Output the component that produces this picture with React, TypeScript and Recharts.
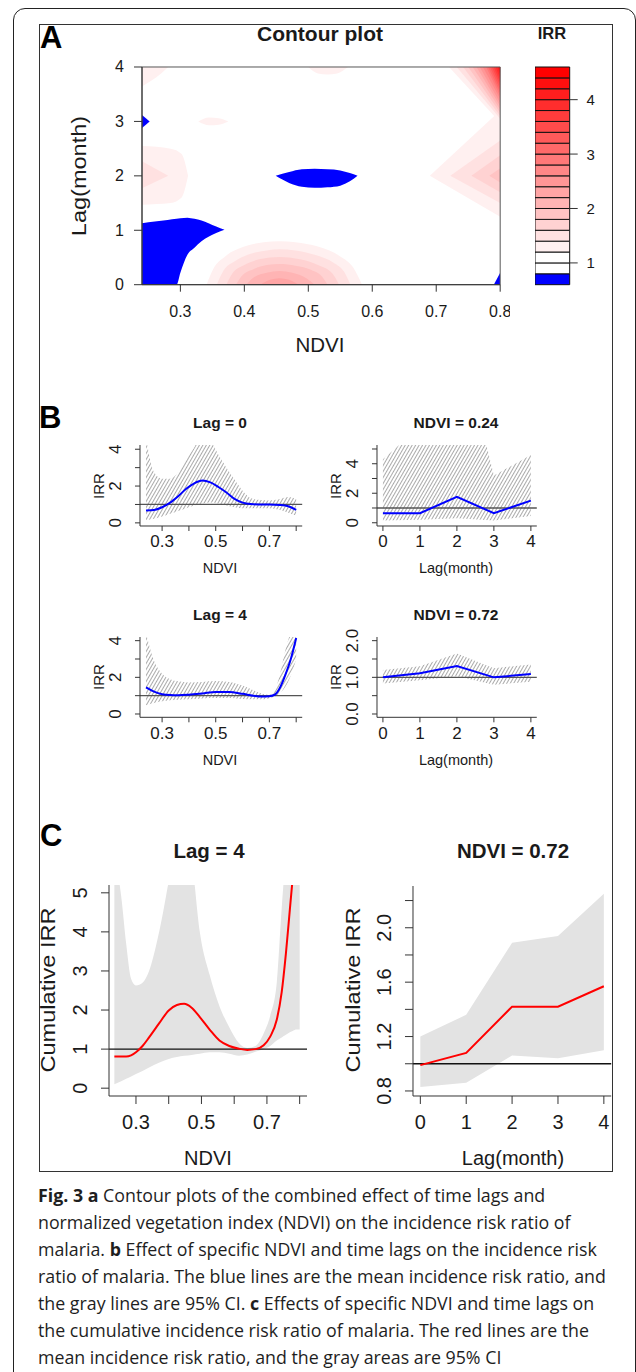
import React from "react";
import { ComposedChart, Area, Line, XAxis, YAxis, ReferenceLine, ReferenceArea } from "recharts";

const FONT = "'Liberation Sans', Arial, sans-serif";
const CAPTION_FONT = "'Open Sans', 'Noto Sans', sans-serif";
const INK = "#1a1a1a";
const AXIS = "#333";

// ---------- A: contour plot ----------
const ndviTicks = [0.3, 0.4, 0.5, 0.6, 0.7, 0.8];
const lagTicks = [0, 1, 2, 3, 4];
// lower edge of every band in the IRR key
const keyLevels = [0.6, 0.8, 1.0, 1.2, 1.4, 1.6, 1.8, 2.0, 2.2, 2.4, 2.6, 2.8, 3.0, 3.2, 3.4, 3.6, 3.8, 4.0, 4.2, 4.4];
const keyTop = 4.6;
const keyTicks = [1, 2, 3, 4];

// filled contour pieces, rows are [ndvi, lag from, lag to]
const blueRegions = [
  [[0.24, 0, 1.13], [0.26, 0, 1.16], [0.28, 0, 1.19], [0.294, 0, 1.21], [0.3, 0.22, 1.22], [0.311, 0.55, 1.23], [0.322, 0.68, 1.21], [0.333, 0.8, 1.18], [0.344, 0.88, 1.13], [0.356, 0.95, 1.07], [0.369, 1.01, 1.01]],
  [[0.24, 2.88, 3.12], [0.252, 3.0, 3.0]],
  [[0.449, 2, 2], [0.47, 1.87, 2.07], [0.49, 1.8, 2.12], [0.51, 1.78, 2.13], [0.53, 1.79, 2.12], [0.55, 1.82, 2.1], [0.565, 1.9, 2.05], [0.577, 2, 2]],
  [[0.79, 0, 0], [0.8, 0, 0.22]],
];

const pinkRegions = [
  // dome at lag 0
  { level: 1.2, pts: [[0.341, 0, 0], [0.352, 0, 0.3], [0.37, 0, 0.52], [0.4, 0, 0.7], [0.43, 0, 0.78], [0.455, 0, 0.8], [0.48, 0, 0.78], [0.515, 0, 0.7], [0.55, 0, 0.52], [0.57, 0, 0.32], [0.584, 0, 0]] },
  { level: 1.4, pts: [[0.357, 0, 0], [0.367, 0, 0.25], [0.385, 0, 0.43], [0.41, 0, 0.57], [0.435, 0, 0.63], [0.455, 0, 0.65], [0.48, 0, 0.63], [0.51, 0, 0.55], [0.54, 0, 0.4], [0.556, 0, 0.24], [0.566, 0, 0]] },
  { level: 1.6, pts: [[0.372, 0, 0], [0.381, 0, 0.2], [0.4, 0, 0.36], [0.425, 0, 0.47], [0.455, 0, 0.51], [0.485, 0, 0.47], [0.515, 0, 0.36], [0.538, 0, 0.2], [0.548, 0, 0]] },
  { level: 1.8, pts: [[0.387, 0, 0], [0.396, 0, 0.16], [0.415, 0, 0.29], [0.435, 0, 0.36], [0.455, 0, 0.38], [0.48, 0, 0.35], [0.505, 0, 0.27], [0.522, 0, 0.14], [0.53, 0, 0]] },
  { level: 2.0, pts: [[0.403, 0, 0], [0.413, 0, 0.12], [0.435, 0, 0.22], [0.455, 0, 0.25], [0.475, 0, 0.22], [0.497, 0, 0.12], [0.51, 0, 0]] },
  { level: 2.2, pts: [[0.425, 0, 0], [0.44, 0, 0.09], [0.455, 0, 0.12], [0.47, 0, 0.09], [0.485, 0, 0]] },
  // left edge around lag 2
  { level: 1.2, pts: [[0.24, 1.47, 2.55], [0.285, 1.5, 2.5], [0.302, 1.6, 2.4], [0.312, 2, 2]] },
  { level: 1.4, pts: [[0.24, 1.77, 2.27], [0.281, 2, 2]] },
  // small patches
  { level: 1.2, pts: [[0.24, 3.64, 4], [0.255, 3.75, 4], [0.27, 3.88, 4], [0.281, 4, 4]] },
  { level: 1.2, pts: [[0.5, 4, 4], [0.515, 3.88, 4], [0.53, 3.86, 4], [0.545, 3.88, 4], [0.562, 4, 4]] },
  { level: 1.2, pts: [[0.328, 3, 3], [0.345, 2.93, 3.07], [0.36, 2.94, 3.06], [0.375, 3, 3]] },
  // chevron at the right edge, lag 2
  { level: 1.2, pts: [[0.69, 2, 2], [0.8, 1.25, 3.2]] },
  { level: 1.4, pts: [[0.722, 2, 2], [0.8, 1.5, 2.65]] },
  { level: 1.6, pts: [[0.755, 2, 2], [0.8, 1.7, 2.38]] },
  { level: 1.8, pts: [[0.783, 2, 2], [0.8, 1.88, 2.14]] },
];

// top-right corner: where each band (from 1.2 up) meets lag 4 and NDVI 0.8
const cornerTopNdvi = [0.72, 0.732, 0.742, 0.75, 0.757, 0.763, 0.768, 0.773, 0.778, 0.781, 0.784, 0.787, 0.79, 0.793, 0.796, 0.798, 0.799];
const cornerEdgeLag = [2.98, 3.05, 3.1, 3.16, 3.22, 3.28, 3.34, 3.41, 3.47, 3.53, 3.59, 3.66, 3.72, 3.78, 3.84, 3.9, 3.96];

// ---------- B: lag-response slices ----------
const lag0Ndvi = [0.24, 0.27, 0.3, 0.33, 0.36, 0.39, 0.42, 0.45, 0.48, 0.51, 0.54, 0.57, 0.6, 0.63, 0.66, 0.7, 0.74, 0.77, 0.8];
const lag0Irr = [0.67, 0.7, 0.85, 1.1, 1.45, 1.85, 2.15, 2.3, 2.2, 1.95, 1.65, 1.3, 1.1, 1.02, 1.0, 1.0, 0.97, 0.9, 0.7];
const lag0Upper = [4.6, 2.75, 2.4, 2.4, 2.75, 3.5, 4.1, 5.0, 4.5, 3.7, 3.0, 2.35, 1.75, 1.35, 1.25, 1.22, 1.3, 1.4, 1.3];
const lag0Lower = [0.15, 0.22, 0.35, 0.5, 0.65, 0.8, 0.95, 1.05, 1.1, 1.05, 0.95, 0.85, 0.8, 0.8, 0.8, 0.8, 0.7, 0.55, 0.4];

const lag4Ndvi = [0.24, 0.27, 0.3, 0.33, 0.36, 0.4, 0.45, 0.5, 0.55, 0.6, 0.64, 0.67, 0.7, 0.72, 0.74, 0.76, 0.78, 0.8];
const lag4Irr = [1.45, 1.22, 1.08, 1.03, 1.02, 1.05, 1.12, 1.2, 1.2, 1.1, 1.0, 0.95, 0.97, 1.05, 1.45, 2.15, 3.0, 4.15];
const lag4Upper = [4.4, 2.9, 2.2, 1.9, 1.78, 1.72, 1.75, 1.8, 1.75, 1.55, 1.3, 1.12, 1.05, 1.3, 2.2, 3.5, 4.5, 5.5];
const lag4Lower = [0.48, 0.6, 0.7, 0.75, 0.78, 0.8, 0.85, 0.87, 0.87, 0.82, 0.8, 0.8, 0.85, 0.95, 1.15, 1.5, 2.1, 3.0];

const lagSteps = [0, 1, 2, 3, 4];
const ndvi024Irr = [0.65, 0.65, 1.75, 0.65, 1.5];
const ndvi024Upper = [4.3, 6.5, 13.5, 3.2, 4.6];
const ndvi024Lower = [0.15, 0.2, 0.3, 0.15, 0.45];
const ndvi072Irr = [1.0, 1.11, 1.31, 1.0, 1.09];
const ndvi072Upper = [1.2, 1.3, 1.65, 1.25, 1.35];
const ndvi072Lower = [0.83, 0.92, 1.03, 0.8, 0.88];

// ---------- C: cumulative ----------
const cumNdvi = [0.234, 0.255, 0.27, 0.285, 0.3, 0.32, 0.34, 0.37, 0.4, 0.425, 0.447, 0.47, 0.495, 0.525, 0.555, 0.585, 0.615, 0.64, 0.665, 0.69, 0.71, 0.73, 0.745, 0.758, 0.77, 0.78, 0.79, 0.8];
const cumIrr = [0.81, 0.81, 0.81, 0.84, 0.92, 1.08, 1.3, 1.65, 1.99, 2.13, 2.16, 2.06, 1.82, 1.5, 1.22, 1.08, 1.01, 0.98, 1.0, 1.1, 1.32, 1.75, 2.45, 3.45, 4.57, 5.5, null, null];
const cumUpper = [6, 4.9, 3.7, 2.8, 2.63, 2.7, 3.0, 3.97, 5.3, 6.5, 7, 5.9, 4.0, 2.9, 2.1, 1.56, 1.15, 1.03, 1.08, 1.4, 1.85, 2.7, 4.6, 6, 7, 8, 9, 10];
const cumLower = [0.1, 0.18, 0.24, 0.3, 0.36, 0.44, 0.53, 0.65, 0.75, 0.8, 0.83, 0.85, 0.88, 0.92, 0.92, 0.88, 0.83, 0.86, 0.93, 1.0, 1.08, 1.22, 1.3, 1.37, 1.43, 1.47, 1.5, 1.5];
const cumLagIrr = [0.99, 1.08, 1.42, 1.42, 1.57];
const cumLagUpper = [1.2, 1.36, 1.89, 1.94, 2.25];
const cumLagLower = [0.83, 0.86, 1.06, 1.04, 1.1];

const captionLines: [boolean, string][][] = [
  [[true, "Fig. 3"], [false, " "], [true, "a"], [false, " Contour plots of the combined effect of time lags and"]],
  [[false, "normalized vegetation index (NDVI) on the incidence risk ratio of"]],
  [[false, "malaria. "], [true, "b"], [false, " Effect of specific NDVI and time lags on the incidence risk"]],
  [[false, "ratio of malaria. The blue lines are the mean incidence risk ratio, and"]],
  [[false, "the gray lines are 95% CI. "], [true, "c"], [false, " Effects of specific NDVI and time lags on"]],
  [[false, "the cumulative incidence risk ratio of malaria. The red lines are the"]],
  [[false, "mean incidence risk ratio, and the gray areas are 95% CI"]],
];

// ---------- helpers ----------
function levelColor(level: number) {
  if (level < 0.79) return "#0000ff";
  if (level < 1.19) return "#ffffff";
  const i = Math.round((level - 1.2) / 0.2);
  const g = Math.round(255 * (1 - (i + 1) / 17));
  return `rgb(255,${g},${g})`;
}

const contourRegions = [
  ...pinkRegions,
  ...cornerTopNdvi.map((x, i) => ({ level: keyLevels[i + 3], pts: [[x, 4, 4], [0.8, cornerEdgeLag[i], 4]] })),
  ...blueRegions.map((pts) => ({ level: keyLevels[0], pts })),
];

const contourRows = contourRegions
  .flatMap((reg, k) => reg.pts.map(([x, lo, hi]) => ({ x, k, lo, hi })))
  .sort((a, b) => a.x - b.x)
  .map(({ x, k, lo, hi }) => {
    const row: Record<string, unknown> = { x };
    contourRegions.forEach((_, j) => {
      row[`r${j}`] = j === k ? [lo, hi] : [null, null];
    });
    return row;
  });

const makeRows = (xs: number[], irr: (number | null)[], lo: number[], hi: number[]) =>
  xs.map((x, i) => ({ x, irr: irr[i], ci: [lo[i], hi[i]] }));

const lag0Rows = makeRows(lag0Ndvi, lag0Irr, lag0Lower, lag0Upper);
const lag4Rows = makeRows(lag4Ndvi, lag4Irr, lag4Lower, lag4Upper);
const ndvi024Rows = makeRows(lagSteps, ndvi024Irr, ndvi024Lower, ndvi024Upper);
const ndvi072Rows = makeRows(lagSteps, ndvi072Irr, ndvi072Lower, ndvi072Upper);
const cumNdviRows = makeRows(cumNdvi, cumIrr, cumLower, cumUpper);
const cumLagRows = makeRows(lagSteps, cumLagIrr, cumLagLower, cumLagUpper);

type Box = { x: number; y: number; w: number; h: number };
const PAD = { l: 60, t: 10, r: 10, b: 50 };
const same = (a: number, b: number) => Math.abs(a - b) < 1e-6;

function Label({ x, y, text, size, bold, rotate, stretch = 1 }: { x: number; y: number; text: string; size: number; bold?: boolean; rotate?: boolean; stretch?: number }) {
  const turn = rotate ? ` rotate(-90deg) scaleX(${stretch})` : ` scaleY(${stretch})`;
  return (
    <div
      style={{
        position: "absolute",
        left: x,
        top: y,
        transform: `translate(-50%, -50%)${turn}`,
        fontFamily: FONT,
        fontSize: size,
        fontWeight: bold ? 700 : 400,
        lineHeight: 1,
        whiteSpace: "nowrap",
        color: INK,
      }}
    >
      {text}
    </div>
  );
}

function CurvePanel(p: {
  id: string;
  box: Box;
  rows: object[];
  xDomain: number[];
  yDomain: number[];
  xTicks: number[];
  xShown: number[];
  xDigits: number;
  yTicks: number[];
  yShown: number[];
  yDigits: number;
  color: string;
  hatch: boolean;
  curve: "monotone" | "linear";
  tickLen: number;
  font: number;
  xOff: number;
  yOff: number;
  refColor: string;
}) {
  const { box } = p;
  const fill = p.hatch ? `url(#hatch-${p.id})` : "#e3e3e3";
  return (
    <div style={{ position: "absolute", left: box.x - PAD.l, top: box.y - PAD.t }}>
      <ComposedChart
        width={box.w + PAD.l + PAD.r}
        height={box.h + PAD.t + PAD.b}
        data={p.rows}
        margin={{ top: PAD.t, right: PAD.r, left: 0, bottom: 0 }}
      >
        <defs>
          <pattern id={`hatch-${p.id}`} width={3} height={3} patternUnits="userSpaceOnUse" patternTransform="rotate(30)">
            <line x1={0.5} y1={0} x2={0.5} y2={3} stroke="#a0a0a0" strokeWidth={0.9} />
          </pattern>
        </defs>
        <XAxis
          dataKey="x"
          type="number"
          domain={p.xDomain}
          ticks={p.xTicks}
          interval={0}
          allowDataOverflow
          height={PAD.b}
          stroke={AXIS}
          tickSize={p.tickLen}
          tickMargin={0}
          tick={(t: any) => {
            const v = t.payload.value;
            return (
              <text x={t.x} y={t.y - p.tickLen + p.xOff} textAnchor="middle" dominantBaseline="central" fontFamily={FONT} fontSize={p.font} fill={INK}>
                {p.xShown.some((s) => same(s, v)) ? v.toFixed(p.xDigits) : ""}
              </text>
            );
          }}
        />
        <YAxis
          type="number"
          domain={p.yDomain}
          ticks={p.yTicks}
          interval={0}
          allowDataOverflow
          width={PAD.l}
          stroke={AXIS}
          tickSize={p.tickLen}
          tickMargin={0}
          tick={(t: any) => {
            const v = t.payload.value;
            const cx = t.x + p.tickLen - p.yOff;
            return (
              <text x={cx} y={t.y} transform={`rotate(-90, ${cx}, ${t.y})`} textAnchor="middle" dominantBaseline="central" fontFamily={FONT} fontSize={p.font} fill={INK}>
                {p.yShown.some((s) => same(s, v)) ? v.toFixed(p.yDigits) : ""}
              </text>
            );
          }}
        />
        <Area dataKey="ci" type={p.curve} stroke="none" fill={fill} fillOpacity={1} isAnimationActive={false} dot={false} activeDot={false} />
        <ReferenceLine y={1} stroke={p.refColor} strokeWidth={1.3} />
        <Line dataKey="irr" type={p.curve} stroke={p.color} strokeWidth={2} dot={false} activeDot={false} isAnimationActive={false} />
      </ComposedChart>
    </div>
  );
}

const A_BOX: Box = { x: 141.8, y: 67.3, w: 358.2, h: 217.7 };
const KEY_BOX: Box = { x: 534.6, y: 67.3, w: 34.7, h: 217.7 };

function ContourPanel() {
  return (
    <div style={{ position: "absolute", left: A_BOX.x - PAD.l, top: A_BOX.y - PAD.t }}>
      <ComposedChart
        width={A_BOX.w + PAD.l + PAD.r}
        height={A_BOX.h + PAD.t + PAD.b}
        data={contourRows}
        margin={{ top: PAD.t, right: PAD.r, left: 0, bottom: 0 }}
      >
        <XAxis
          dataKey="x"
          type="number"
          domain={[0.24, 0.8]}
          ticks={ndviTicks}
          interval={0}
          allowDataOverflow
          height={PAD.b}
          stroke={AXIS}
          tickSize={7}
          tickMargin={0}
          tick={(t: any) => (
            <text x={t.x} y={t.y - 7 + 27} textAnchor="middle" dominantBaseline="central" fontFamily={FONT} fontSize={16} fill={INK}>
              {t.payload.value.toFixed(1)}
            </text>
          )}
        />
        <YAxis
          type="number"
          domain={[0, 4]}
          ticks={lagTicks}
          interval={0}
          allowDataOverflow
          width={PAD.l}
          stroke={AXIS}
          tickSize={8}
          tickMargin={0}
          tick={(t: any) => (
            <text x={t.x + 8 - 18} y={t.y} textAnchor="end" dominantBaseline="central" fontFamily={FONT} fontSize={16} fill={INK}>
              {t.payload.value}
            </text>
          )}
        />
        {contourRegions.map((reg, k) => (
          <Area
            key={k}
            dataKey={`r${k}`}
            type="monotone"
            stroke="none"
            fill={levelColor(reg.level)}
            fillOpacity={1}
            connectNulls
            isAnimationActive={false}
            dot={false}
            activeDot={false}
          />
        ))}
        <ReferenceArea x1={0.24} x2={0.8} y1={0} y2={4} fill="none" stroke="#555" strokeWidth={1} ifOverflow="visible" />
      </ComposedChart>
    </div>
  );
}

function ColorKey() {
  return (
    <div style={{ position: "absolute", left: KEY_BOX.x, top: KEY_BOX.y - 10 }}>
      <ComposedChart width={KEY_BOX.w + 40} height={KEY_BOX.h + 20} data={[{ x: 0 }, { x: 1 }]} margin={{ top: 10, right: 0, left: 0, bottom: 10 }}>
        <XAxis dataKey="x" type="number" domain={[0, 1]} hide />
        <YAxis
          orientation="right"
          type="number"
          domain={[keyLevels[0], keyTop]}
          ticks={keyTicks}
          interval={0}
          allowDataOverflow
          width={40}
          axisLine={false}
          stroke={AXIS}
          tickSize={8}
          tickMargin={0}
          tick={(t: any) => (
            <text x={t.x + 13} y={t.y} textAnchor="middle" dominantBaseline="central" fontFamily={FONT} fontSize={15} fill={INK}>
              {t.payload.value}
            </text>
          )}
        />
        {keyLevels.map((lv, i) => (
          <ReferenceArea
            key={i}
            x1={0}
            x2={1}
            y1={lv}
            y2={i + 1 < keyLevels.length ? keyLevels[i + 1] : keyTop}
            fill={levelColor(lv)}
            fillOpacity={1}
            stroke="#111"
            strokeWidth={1}
          />
        ))}
      </ComposedChart>
    </div>
  );
}

export default function App() {
  const bNdvi = { xDomain: [0.2176, 0.8224], xTicks: ndviTicks, xShown: [0.3, 0.5, 0.7], xDigits: 1 };
  const bLag = { xDomain: [-0.16, 4.16], xTicks: lagSteps, xShown: lagSteps, xDigits: 0 };
  const bStyle = { color: "#0000ff", hatch: true, tickLen: 5, font: 17, xOff: 16, yOff: 24, refColor: "#555" };
  const cStyle = { color: "#ff0000", hatch: false, tickLen: 8, font: 20, xOff: 25.7, yOff: 29, refColor: "#111" };
  return (
    <div style={{ position: "absolute", left: 0, top: 0, width: 636, height: 1372, background: "#fff", overflow: "hidden" }}>
      {/* outer frame and figure box */}
      <div style={{ position: "absolute", left: 13, top: 8, width: 623, height: 1420, border: "1.5px solid #222", borderRadius: 12, boxSizing: "border-box" }} />
      <div style={{ position: "absolute", left: 39, top: 24, width: 574, height: 1148, border: "1px solid #333", boxSizing: "border-box" }} />

      {/* A */}
      <div style={{ position: "absolute", left: 40, top: 20, fontFamily: FONT, fontWeight: 700, fontSize: 31, color: "#000" }}>A</div>
      <Label x={320} y={33} text="Contour plot" size={21} bold />
      <Label x={552} y={33} text="IRR" size={16.5} bold />
      <ContourPanel />
      <ColorKey />
      <Label x={320} y={345} text="NDVI" size={20.5} />
      <Label x={78} y={176} text="Lag(month)" size={21} rotate stretch={1.12} />

      {/* B */}
      <div style={{ position: "absolute", left: 39, top: 400, fontFamily: FONT, fontWeight: 700, fontSize: 31, color: "#000" }}>B</div>
      <Label x={220} y={423} text="Lag = 0" size={15.5} bold />
      <Label x={456} y={423} text="NDVI = 0.24" size={15.5} bold />
      <Label x={220} y={615} text="Lag = 4" size={15.5} bold />
      <Label x={456} y={615} text="NDVI = 0.72" size={15.5} bold />
      <CurvePanel id="b1" box={{ x: 140, y: 445, w: 162.2, h: 81 }} rows={lag0Rows} yDomain={[-0.17, 4.23]} yTicks={[0, 1, 2, 3, 4]} yShown={[0, 2, 4]} yDigits={0} curve="monotone" {...bNdvi} {...bStyle} />
      <CurvePanel id="b2" box={{ x: 377.4, y: 445, w: 159.8, h: 81 }} rows={ndvi024Rows} yDomain={[-0.22, 5.27]} yTicks={[0, 1, 2, 3, 4, 5]} yShown={[0, 2, 4]} yDigits={0} curve="linear" {...bLag} {...bStyle} />
      <CurvePanel id="b3" box={{ x: 140, y: 637, w: 162.2, h: 80.3 }} rows={lag4Rows} yDomain={[-0.18, 4.2]} yTicks={[0, 1, 2, 3, 4]} yShown={[0, 2, 4]} yDigits={0} curve="monotone" {...bNdvi} {...bStyle} />
      <CurvePanel id="b4" box={{ x: 377.4, y: 637, w: 159.8, h: 80.3 }} rows={ndvi072Rows} yDomain={[-0.09, 2.1]} yTicks={[0, 0.5, 1, 1.5, 2]} yShown={[0, 1, 2]} yDigits={1} curve="linear" {...bLag} {...bStyle} />
      <Label x={98.4} y={486} text="IRR" size={15} rotate />
      <Label x={334.5} y={486} text="IRR" size={15} rotate />
      <Label x={98.4} y={677} text="IRR" size={15} rotate />
      <Label x={334.5} y={677} text="IRR" size={15} rotate />
      <Label x={220} y={568} text="NDVI" size={14.5} />
      <Label x={456} y={568} text="Lag(month)" size={14.5} />
      <Label x={220} y={760} text="NDVI" size={14.5} />
      <Label x={456} y={760} text="Lag(month)" size={14.5} />

      {/* C */}
      <div style={{ position: "absolute", left: 40, top: 818, fontFamily: FONT, fontWeight: 700, fontSize: 31, color: "#000" }}>C</div>
      <Label x={209} y={851} text="Lag = 4" size={20.5} bold />
      <Label x={513} y={851} text="NDVI = 0.72" size={20.5} bold />
      <CurvePanel id="c1" box={{ x: 109.3, y: 885, w: 198, h: 211 }} rows={cumNdviRows} yDomain={[-0.2, 5.2]} yTicks={[0, 1, 2, 3, 4, 5]} yShown={[0, 1, 2, 3, 4, 5]} yDigits={0} curve="monotone" {...bNdvi} {...cStyle} />
      <CurvePanel id="c2" box={{ x: 413.3, y: 886, w: 198.2, h: 210 }} rows={cumLagRows} yDomain={[0.763, 2.307]} yTicks={[0.8, 1.0, 1.2, 1.4, 1.6, 1.8, 2.0, 2.2]} yShown={[0.8, 1.2, 1.6, 2.0]} yDigits={1} curve="linear" {...bLag} {...cStyle} />
      <Label x={48.3} y={990} text="Cumulative IRR" size={20.5} rotate stretch={1.15} />
      <Label x={353.3} y={990} text="Cumulative IRR" size={20.5} rotate stretch={1.15} />
      <Label x={208} y={1158} text="NDVI" size={20} />
      <Label x={513} y={1158} text="Lag(month)" size={20} />

      {/* caption */}
      {captionLines.map((line, i) => (
        <div
          key={i}
          style={{
            position: "absolute",
            left: 38,
            top: 1195 + i * 27 - 13.5,
            height: 27,
            lineHeight: "27px",
            fontFamily: CAPTION_FONT,
            fontSize: 17.8,
            color: "#1e1e1e",
            whiteSpace: "nowrap",
          }}
        >
          {line.map(([bold, text], j) => (
            <span key={j} style={{ fontWeight: bold ? 700 : 400 }}>
              {text}
            </span>
          ))}
        </div>
      ))}
    </div>
  );
}
